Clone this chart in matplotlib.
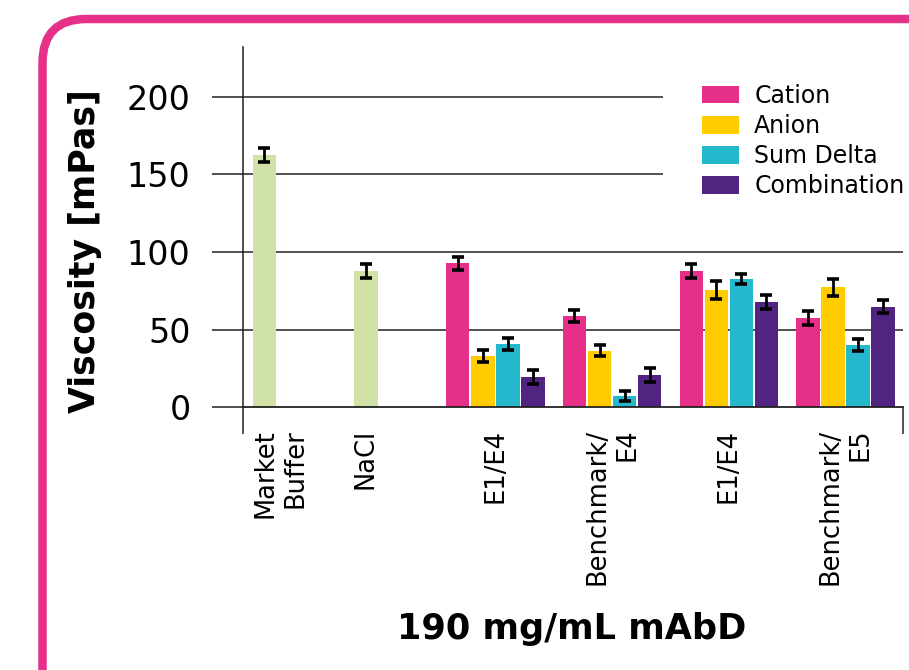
import numpy as np
import matplotlib.pyplot as plt
from matplotlib.patches import FancyBboxPatch
from matplotlib.transforms import IdentityTransform

plt.rcParams['font.family'] = ['DejaVu Sans']

# controls (single bars)
controls = ['Market\nBuffer', 'NaCl']
control_values = [162.5, 87.8]
control_errors = [4.3, 4.3]

# formulations, four series each
groups = ['E1/E4', 'Benchmark/\nE4', 'E1/E4', 'Benchmark/\nE5']
series = ['Cation', 'Anion', 'Sum Delta', 'Combination']
cation = [92.9, 58.8, 87.8, 57.5]
cation_err = [4.2, 4.1, 4.3, 4.3]
anion = [33.0, 36.3, 75.5, 77.3]
anion_err = [3.7, 3.5, 5.6, 5.6]
sum_delta = [40.8, 7.3, 82.6, 40.1]
sum_delta_err = [3.6, 3.2, 3.5, 3.6]
combination = [19.5, 20.8, 67.8, 64.6]
combination_err = [4.3, 4.2, 4.2, 4.2]

yticks = [0, 50, 100, 150, 200]

colors = ['#E62F89', '#FFCC00', '#25B8CC', '#522482']
control_color = '#D0E2A6'
pink = '#E6318A'
line_col = '#222222'

fig = plt.figure(figsize=(9.09, 6.7), dpi=100)
ax = fig.add_axes([243 / 909, 1 - 407.3 / 670, (902.7 - 243) / 909, (407.3 - 47) / 670])

err_kw = dict(ecolor='black', elinewidth=2.0, capsize=4.4, capthick=2.6)

control_x = np.array([0.0, 4.03])
group_x = 9.17 + 4.63 * np.arange(len(groups))
offsets = (np.arange(4) - 1.5) * 0.995
width = 0.925

ax.bar(control_x, control_values, width, yerr=control_errors, color=control_color,
       zorder=2, error_kw=err_kw)

data = [(cation, cation_err), (anion, anion_err),
        (sum_delta, sum_delta_err), (combination, combination_err)]
for i, (vals, errs) in enumerate(data):
    ax.bar(group_x + offsets[i], vals, width, yerr=errs, color=colors[i],
           label=series[i], zorder=2, error_kw=err_kw)

ax.set_xlim(-0.845, 25.33)
ax.set_ylim(0, (407.3 - 47) / 1.553)

# horizontal grid lines (upper ones stop before the legend)
ytr = ax.get_yaxis_transform()
ax.hlines([50, 100], 0, 1, transform=ytr, color=line_col, lw=1.1, zorder=1)
ax.hlines([150, 200], 0, 0.637, transform=ytr, color=line_col, lw=1.1, zorder=1)

ax.set_yticks(yticks)
ax.tick_params(axis='y', length=22.3, width=1.1, color=line_col, pad=15.5,
               labelsize=24)

label_x = np.r_[control_x + np.array([0.63, 0.0]), group_x]
ax.set_xticks(label_x)
ax.set_xticklabels(controls + groups, rotation=90, fontsize=18.5, va='top',
                   ha='center', multialignment='right', linespacing=1.2)
ax.tick_params(axis='x', which='major', length=0, pad=15.5)
ax.set_xticks([-0.845, 25.33], minor=True)
ax.tick_params(axis='x', which='minor', length=19.4, width=1.1, color=line_col)

for s in ['top', 'right']:
    ax.spines[s].set_visible(False)
ax.spines['left'].set_color(line_col)
ax.spines['bottom'].set_color(line_col)
ax.spines['left'].set_linewidth(1.1)
ax.spines['bottom'].set_linewidth(1.3)

fig.text(85 / 909, 1 - 251 / 670, 'Viscosity [mPas]', rotation=90, ha='center',
         va='center', fontsize=25, fontweight='bold')
fig.text(572 / 909, 1 - 639 / 670, '190 mg/mL mAbD', ha='center', va='baseline',
         fontsize=25.3, fontweight='bold')

ax.legend(loc='upper left', bbox_to_anchor=(702 / 909, 1 - 84 / 670),
          bbox_transform=fig.transFigure, frameon=False, fontsize=17,
          borderpad=0, borderaxespad=0, handlelength=1.57, handleheight=0.76,
          handletextpad=0.64, labelspacing=0.26)

# rounded pink frame
frame = FancyBboxPatch((42.5, -60), 960, 670 - 19 + 60,
                       boxstyle='round,pad=0,rounding_size=44',
                       transform=IdentityTransform(), facecolor='none',
                       edgecolor=pink, linewidth=6.1)
fig.add_artist(frame)

fig.savefig('out.png', dpi=100)
